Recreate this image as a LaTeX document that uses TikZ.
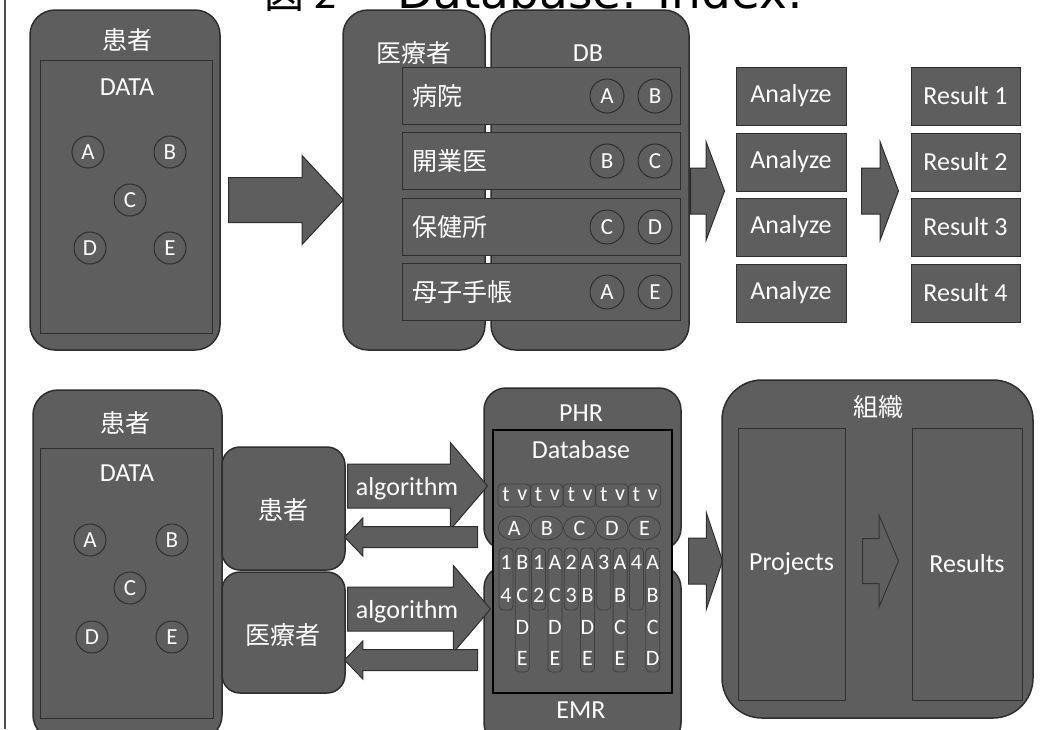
\documentclass[tikz,border=0pt]{standalone}
\usepackage{fontspec}
\setmainfont{Carlito}
\newfontfamily\jp{Noto Sans CJK JP}
\newfontfamily\titlefont{DejaVu Sans}
\usepackage{tikz}
\usetikzlibrary{shapes.arrows}
\definecolor{boxfill}{gray}{0.37}
\definecolor{boxline}{gray}{0.18}

\begin{document}
\begin{tikzpicture}[x=1pt,y=-1pt,font=\fontsize{26}{26}\selectfont,
  panel/.style={draw=boxline,fill=boxfill,line width=1.5pt,rounded corners=#1,inner sep=0pt},
  inbox/.style={draw=boxline,fill=boxfill,line width=1pt,inner sep=0pt,text=white},
  lbl/.style={text=white,inner sep=0pt},
  jlbl/.style={text=white,inner sep=0pt,font=\jp\fontsize{25}{25}\selectfont},
  datadot/.style={circle,draw=boxline,fill=boxfill,line width=1pt,minimum size=32pt,inner sep=0pt,
    text=white,font=\fontsize{23}{23}\selectfont},
  barrow/.style n args={5}{single arrow,draw=boxline,fill=boxfill,line width=1pt,inner xsep=0pt,
    inner ysep=#5,minimum height=#1,minimum width=#2,single arrow head extend=#3,single arrow tip angle=#4},
  gridbox/.style={draw=black!75,line width=.8pt,rounded corners=4pt},
  idx/.style={text=white,inner sep=0pt,font=\fontsize{22}{22}\selectfont}]
  \useasboundingbox (0,0) rectangle (1044,729);
  \draw[line width=1.2pt,black!70] (5,0) -- (5,729);
  \node[anchor=base west,font=\jp\fontsize{40}{40}\selectfont] (fig) at (261,8) {図\kern10pt 2};
  \node[anchor=base west,font=\titlefont\fontsize{47}{47}\selectfont] (title) at (394,8) {Database: Index:};

  % top row
  \node[panel=25pt,minimum width=190,minimum height=340] (patA) at (125,180) {};
  \node[inbox,minimum width=172,minimum height=273] (dataA) at (126,196.5) {};
  \node[jlbl] (patAt) at (127,40) {患者};
  \node[lbl] (dataAt) at (127,87) {DATA};
  \foreach \c/\x/\y in {A/88/152,B/170/152,C/130/200,D/90/248,E/170/248}
    \node[datadot] (a\c) at (\x,\y) {\c};
  \node[barrow={115}{88}{22}{94}{22},anchor=tail] (toMed) at (228,200) {};

  \node[panel=25pt,minimum width=142,minimum height=340] (med) at (414,180) {};
  \node[panel=25pt,minimum width=198,minimum height=340] (db) at (590,180) {};
  \node[jlbl] (medt) at (414,53) {医療者};
  \node[lbl] (dbt) at (588,53) {DB};
  \foreach \y/\nm/\a/\b [count=\i] in {96/病院/A/B,161/開業医/B/C,227/保健所/C/D,292/母子手帳/A/E} {
    \node[inbox,minimum width=278,minimum height=57] (row\i) at (541,\y) {};
    \node[jlbl,anchor=west] (rowt\i) at (412,\y) {\nm};
    \node[datadot,minimum size=34pt] (row\i a) at (607,\y) {\a};
    \node[datadot,minimum size=34pt] (row\i b) at (655,\y) {\b};
  }
  \node[barrow={34}{97}{26}{139}{22.5},anchor=tail] (toAna) at (690,191) {};
  \foreach \y [count=\i] in {96,162,227,293} {
    \node[inbox,minimum width=110,minimum height=58] (ana\i) at (791,\y) {Analyze};
    \node[inbox,minimum width=109,minimum height=58] (res\i) at (965.5,\y) {Result \i};
  }
  \node[barrow={37}{97}{26}{139}{22.5},anchor=tail] (toRes) at (861,191) {};

  % bottom row
  \node[panel=25pt,minimum width=189,minimum height=350] (patB) at (127.5,565) {};
  \node[inbox,minimum width=173,minimum height=270] (dataB) at (126.5,583) {};
  \node[jlbl] (patBt) at (125,423) {患者};
  \node[lbl] (dataBt) at (127,473) {DATA};
  \foreach \c/\x/\y in {A/90/540,B/172/540,C/130/588,D/92/637,E/172/637}
    \node[datadot] (b\c) at (\x,\y) {\c};
  \node[panel=18pt,minimum width=123,minimum height=123] (sp) at (283.5,508.5) {};
  \node[panel=18pt,minimum width=123,minimum height=121] (sm) at (283.5,632.5) {};
  \node[jlbl] (spt) at (283,510) {患者};
  \node[jlbl] (smt) at (283,635) {医療者};

  \node[panel=22pt,minimum width=197,minimum height=162] (phr) at (582.5,469) {};
  \node[panel=22pt,minimum width=197,minimum height=179] (emr) at (582.5,655.5) {};
  \node[lbl] (phrt) at (581,413) {PHR};
  \node[lbl] (emrt) at (581,710) {EMR};
  \node[barrow={140}{86}{21.5}{99}{21.5},anchor=tail] (algP) at (347,486) {};
  \node[barrow={143}{86}{21.5}{99}{21.5},anchor=tail] (algM) at (347,609) {};
  \node[barrow={133}{37}{8.5}{92}{10},shape border rotate=180,anchor=tail] (backP) at (478,537) {};
  \node[barrow={133}{37}{8.5}{92}{10},shape border rotate=180,anchor=tail] (backM) at (478,660) {};
  \node[lbl] (algPt) at (407,489) {algorithm};
  \node[lbl] (algMt) at (407,612) {algorithm};

  \node[draw=black,fill=boxfill,line width=2.5pt,minimum width=179,minimum height=263,inner sep=0pt] (dbin) at (582.5,561.5) {};
  \node[lbl] (dbint) at (581,450) {Database};
  \foreach \i in {0,...,4} {
    \draw[gridbox] ({498+32.6*\i},484) rectangle ({530.3+32.6*\i},507);
    \draw[gridbox] ({514.2+32.6*\i},528) ellipse [x radius=16,y radius=12];
    \draw[gridbox] ({499+32.6*\i},548) rectangle ({513+32.6*\i},610);
    \draw[gridbox] ({515.3+32.6*\i},548) rectangle ({529.3+32.6*\i},672);
  }
  \foreach \c [count=\i] in {t,v,t,v,t,v,t,v,t,v}
    \node[idx] (g1-\i) at ({506+16.3*(\i-1)},495) {\c};
  \foreach \c [count=\i] in {A,B,C,D,E}
    \node[idx] (g2-\i) at ({514.2+32.6*(\i-1)},528) {\c};
  \foreach \c [count=\i] in {1,B,1,A,2,A,3,A,4,A}
    \node[idx] (g3-\i) at ({506+16.3*(\i-1)},562) {\c};
  \foreach \c [count=\i] in {4,C,2,C,3,B,{},B,{},B}
    \node[idx] (g4-\i) at ({506+16.3*(\i-1)},595) {\c};
  \foreach \c [count=\i] in {D,D,D,C,C}
    \node[idx] (g5-\i) at ({522.3+32.6*(\i-1)},627) {\c};
  \foreach \c [count=\i] in {E,E,E,E,D}
    \node[idx] (g6-\i) at ({522.3+32.6*(\i-1)},658) {\c};

  \node[barrow={34}{96}{25.5}{143}{22.5},anchor=tail] (toOrg) at (688,561) {};
  \node[panel=40pt,minimum width=311,minimum height=338] (org) at (877.5,549) {};
  \node[jlbl] (orgt) at (878,407) {組織};
  \node[inbox,minimum width=107,minimum height=272] (proj) at (791.5,564) {Projects};
  \node[inbox,minimum width=110,minimum height=272] (resl) at (967,564) {Results};
  \node[barrow={36}{90}{23}{134}{22},anchor=tail,draw=black!80] (projres) at (862,561) {};
\end{tikzpicture}
\end{document}
